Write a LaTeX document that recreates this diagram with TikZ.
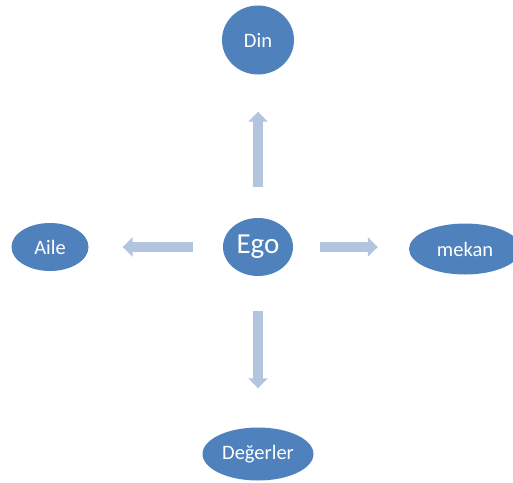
\documentclass[tikz,border=0pt]{standalone}
\usepackage{fontspec}
\setmainfont{Carlito}
\usetikzlibrary{shapes.geometric,arrows.meta}
\definecolor{uzelmodra}{RGB}{79,129,189}
\definecolor{sipkamodra}{RGB}{179,196,222}

\begin{document}
\begin{tikzpicture}[x=1pt, y=-1pt, node distance=207pt]

            % Styly uzlů a šipek
            \tikzstyle{bublina} = [ellipse, draw=none, fill=uzelmodra, text=white, inner sep=0pt, font=\fontsize{20.5}{24}\selectfont]
            \tikzstyle{arrow} = [draw=sipkamodra, line width=10pt, -{Triangle[width=19pt, length=10pt]}]

            \useasboundingbox (0,0) rectangle (513,482);

            % Uzly diagramu
            \node (ego) [bublina, minimum width=70pt, minimum height=58pt, font=\fontsize{29}{34}\selectfont] at (258,247) {Ego};
            \node (din) [bublina, above of=ego, minimum width=72pt, minimum height=69pt] {Din};
            \node (aile) [bublina, left of=ego, xshift=-1pt, minimum width=77pt, minimum height=48pt] {Aile};
            \node (mekan) [bublina, right of=ego, yshift=-2pt, minimum width=112pt, minimum height=51pt] {mekan};
            \node (degerler) [bublina, below of=ego, minimum width=111pt, minimum height=53pt] {Değerler};

            % Šipky z ega ven
            \draw [arrow, shorten <=31pt, shorten >=37pt] (ego.north) -- (din.south);
            \draw [arrow, shorten <=30pt, shorten >=34pt] (ego.west) -- (aile.east);
            \draw [arrow, shorten <=27pt, shorten >=31pt] (ego.east) -- (mekan.west |- ego.east);
            \draw [arrow, shorten <=35pt, shorten >=39pt] (ego.south) -- (degerler.north);

\end{tikzpicture}
\end{document}
